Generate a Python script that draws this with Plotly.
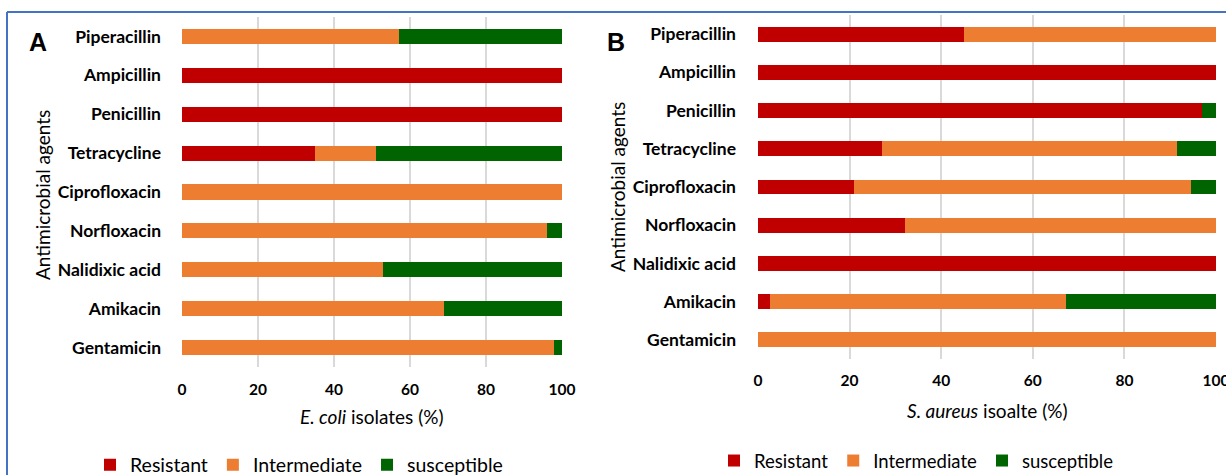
import plotly.graph_objects as go

agents = ["Piperacillin", "Ampicillin", "Penicillin", "Tetracycline", "Ciprofloxacin",
          "Norfloxacin", "Nalidixic acid", "Amikacin", "Gentamicin"]

ecoli_resistant = [0, 100, 100, 35, 0, 0, 0, 0, 0]
ecoli_intermediate = [57, 0, 0, 16, 100, 96, 53, 69, 98]
ecoli_susceptible = [43, 0, 0, 49, 0, 4, 47, 31, 2]

saureus_resistant = [45, 100, 97, 27, 21, 32, 100, 2.6, 0]
saureus_intermediate = [55, 0, 0, 64.5, 73.5, 68, 0, 64.7, 100]
saureus_susceptible = [0, 0, 3, 8.5, 5.5, 0, 0, 32.7, 0]

series_names = ["Resistant", "Intermediate", "susceptible"]
colors = ["#C00000", "#ED7D31", "#006400"]
x_ticks = [0, 20, 40, 60, 80, 100]

W, H = 1226, 475
def px(x): return x / W
def py(y): return 1 - y / H

FONT = "Lato"
fig = go.Figure()

for name, vals, col in zip(series_names, [ecoli_resistant, ecoli_intermediate, ecoli_susceptible], colors):
    fig.add_trace(go.Bar(y=agents, x=vals, orientation="h", name=name,
                         marker=dict(color=col, line=dict(width=0)),
                         xaxis="x", yaxis="y", legend="legend"))
for name, vals, col in zip(series_names, [saureus_resistant, saureus_intermediate, saureus_susceptible], colors):
    fig.add_trace(go.Bar(y=agents, x=vals, orientation="h", name=name,
                         marker=dict(color=col, line=dict(width=0)),
                         xaxis="x2", yaxis="y2", legend="legend2"))

xcommon = dict(range=[0, 100], tickvals=x_ticks, showgrid=True, gridcolor="#D9D9D9", gridwidth=1.5,
               zeroline=False, showline=False, ticks="", fixedrange=True, automargin=False,
               ticklabeloverflow="allow",
               tickfont=dict(family=FONT, size=15.5, color="#000000", weight="bold"))
ycommon = dict(autorange="reversed", showgrid=False, zeroline=False, showline=False, ticks="",
               automargin=False,
               tickfont=dict(family=FONT, size=17.5, color="#000000", weight="bold"))

fig.update_layout(
    width=W, height=H, margin=dict(l=0, r=0, t=0, b=0, autoexpand=False),
    paper_bgcolor="white", plot_bgcolor="white",
    barmode="stack", bargap=0.61,
    xaxis=dict(domain=[px(182), px(562)], anchor="y", ticklabelstandoff=11, **xcommon),
    yaxis=dict(domain=[py(367), py(17)], anchor="x", ticklabelstandoff=20, **ycommon),
    xaxis2=dict(domain=[px(758), px(1216)], anchor="y2", ticklabelstandoff=10, **xcommon),
    yaxis2=dict(domain=[py(359), py(15)], anchor="x2", ticklabelstandoff=21, **ycommon),
    legend=dict(orientation="h", x=px(90), y=py(465), xanchor="left", yanchor="middle",
                font=dict(family=FONT, size=19.5, color="#000000"), traceorder="normal",
                bgcolor="rgba(0,0,0,0)", itemwidth=30),
    legend2=dict(orientation="h", x=px(714), y=py(461), xanchor="left", yanchor="middle",
                 font=dict(family=FONT, size=18.5, color="#000000"), traceorder="normal",
                 bgcolor="rgba(0,0,0,0)", itemwidth=30),
    showlegend=True,
)

annotations = [
    dict(text="<b>A</b>", x=px(38), y=py(42), font=dict(family="Liberation Sans", size=25, color="#000")),
    dict(text="<b>B</b>", x=px(616), y=py(42), font=dict(family="Liberation Sans", size=25, color="#000")),
    dict(text="<i>E. coli</i> isolates (%)", x=px(372), y=py(416), font=dict(family=FONT, size=19, color="#000")),
    dict(text="<i>S. aureus</i> isoalte (%)", x=px(987), y=py(410), font=dict(family=FONT, size=19, color="#000")),
    dict(text="Antimicrobial agents", x=px(43), y=py(195), textangle=-90, font=dict(family=FONT, size=19, color="#000")),
    dict(text="Antimicrobial agents", x=px(617), y=py(187), textangle=-90, font=dict(family=FONT, size=19, color="#000")),
]
for a in annotations:
    a.update(xref="paper", yref="paper", showarrow=False, xanchor="center", yanchor="middle")
fig.update_layout(annotations=annotations)

fig.add_shape(type="line", xref="paper", yref="paper", x0=px(7), x1=1, y0=py(12), y1=py(12),
              line=dict(color="#4472C4", width=2))
fig.add_shape(type="line", xref="paper", yref="paper", x0=px(7), x1=px(7), y0=py(12), y1=0,
              line=dict(color="#4472C4", width=2))

fig.write_html("out.html")
